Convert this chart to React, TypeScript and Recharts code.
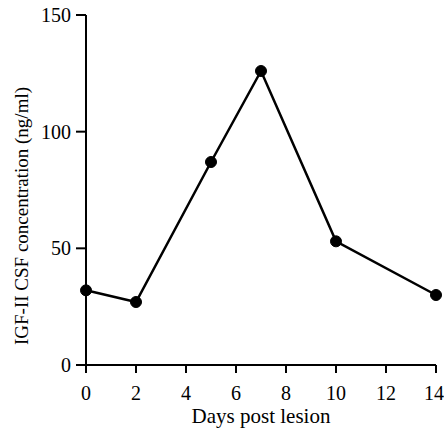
import { LineChart, Line, XAxis, YAxis } from 'recharts'

const DAYS = [0, 2, 5, 7, 10, 14]
const IGF2 = [32, 27, 87, 126, 53, 30]
const X_TICKS = [0, 2, 4, 6, 8, 10, 12, 14]
const Y_TICKS = [0, 50, 100, 150]

const data = DAYS.map((d, i) => ({ day: d, igf: IGF2[i] }))

const FONT = '"Liberation Serif", "Times New Roman", Times, serif'

function YLabel(props: any) {
  const vb = props.viewBox || {}
  const cx = vb.x + 21
  const cy = vb.y + vb.height / 2 + 26
  return (
    <text
      x={cx}
      y={cy}
      transform={`rotate(-90 ${cx} ${cy})`}
      textAnchor="middle"
      dominantBaseline="central"
      style={{ fontFamily: FONT, fontSize: 19 }}
      fill="#000"
    >
      IGF-II CSF concentration (ng/ml)
    </text>
  )
}

export default function App() {
  return (
    <div style={{ position: 'absolute', left: 0, top: 0, background: '#fff', fontFamily: FONT }}>
      <LineChart
        width={444}
        height={429}
        data={data}
        margin={{ top: 15, right: 8, bottom: 0, left: 0 }}
        style={{ fontFamily: FONT }}
      >
        <XAxis
          dataKey="day"
          type="number"
          domain={[0, 14]}
          ticks={X_TICKS}
          height={64}
          stroke="#000"
          strokeWidth={2}
          tickSize={8}
          tickMargin={13}
          tick={{ fill: '#000', fontSize: 20, style: { fontFamily: FONT } }}
          label={{
            value: 'Days post lesion',
            position: 'insideBottom',
            offset: 6,
            fill: '#000',
            fontSize: 21,
            style: { fontFamily: FONT },
          }}
        />
        <YAxis
          type="number"
          domain={[0, 150]}
          ticks={Y_TICKS}
          width={86}
          stroke="#000"
          strokeWidth={2}
          tickSize={10}
          tickMargin={5}
          tick={{ fill: '#000', fontSize: 20, style: { fontFamily: FONT } }}
          label={<YLabel />}
        />
        <Line
          dataKey="igf"
          stroke="#000"
          strokeWidth={2.5}
          dot={{ r: 5.5, fill: '#000', stroke: '#000', strokeWidth: 1 }}
          isAnimationActive={false}
        />
      </LineChart>
    </div>
  )
}
